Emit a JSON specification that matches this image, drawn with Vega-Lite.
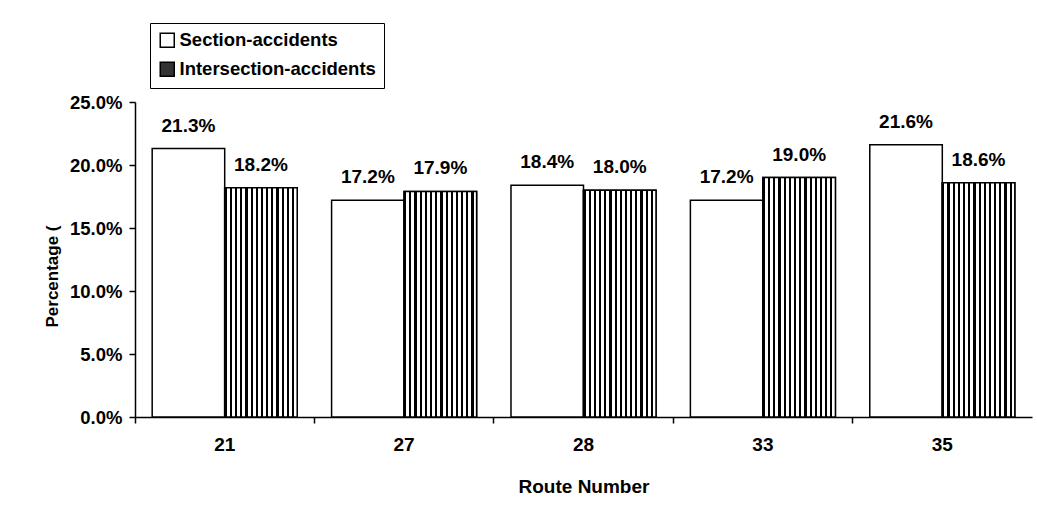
{
  "$schema": "https://vega.github.io/schema/vega-lite/v6.json",
  "width": 897,
  "height": 315,
  "autosize": {"type": "none"},
  "padding": {"left": 135, "top": 102, "right": 5, "bottom": 105},
  "background": "white",
  "config": {
    "view": {"stroke": null},
    "font": "Liberation Sans",
    "axis": {
      "domainColor": "black",
      "domainWidth": 1.5,
      "tickColor": "black",
      "tickWidth": 1.5,
      "labelColor": "black",
      "titleColor": "black",
      "labelFont": "Liberation Sans",
      "titleFont": "Liberation Sans",
      "labelFontWeight": "bold",
      "titleFontWeight": "bold",
      "labelFontSize": 18.5,
      "titleFontSize": 18,
      "grid": false
    }
  },
  "data": {
    "values": [
      {"route": "21", "series": "Section-accidents", "value": 0.213},
      {"route": "21", "series": "Intersection-accidents", "value": 0.182},
      {"route": "27", "series": "Section-accidents", "value": 0.172},
      {"route": "27", "series": "Intersection-accidents", "value": 0.179},
      {"route": "28", "series": "Section-accidents", "value": 0.184},
      {"route": "28", "series": "Intersection-accidents", "value": 0.180},
      {"route": "33", "series": "Section-accidents", "value": 0.172},
      {"route": "33", "series": "Intersection-accidents", "value": 0.190},
      {"route": "35", "series": "Section-accidents", "value": 0.216},
      {"route": "35", "series": "Intersection-accidents", "value": 0.186}
    ]
  },
  "encoding": {
    "x": {
      "field": "route",
      "type": "nominal",
      "sort": null,
      "scale": {"paddingInner": 0, "paddingOuter": 0},
      "axis": {
        "title": "Route Number",
        "labelAngle": 0,
        "labelFontSize": 19,
        "bandPosition": 0,
        "tickSize": 6,
        "labelPadding": 12,
        "titleFontSize": 19,
        "titlePadding": 23
      }
    },
    "xOffset": {
      "field": "series",
      "type": "nominal",
      "sort": ["Section-accidents", "Intersection-accidents"],
      "scale": {"paddingInner": 0, "paddingOuter": 0.237}
    },
    "y": {
      "field": "value",
      "type": "quantitative",
      "scale": {"domain": [0, 0.25], "nice": false},
      "axis": {
        "title": "Percentage (",
        "format": ".1%",
        "values": [0, 0.05, 0.1, 0.15, 0.2, 0.25],
        "tickSize": 6,
        "labelPadding": 7,
        "titlePadding": 8,
        "titleFontSize": 17,
        "titleY": 174
      }
    }
  },
  "layer": [
    {
      "mark": {"type": "bar", "stroke": "black", "strokeWidth": 1.5},
      "encoding": {
        "fill": {
          "field": "series",
          "type": "nominal",
          "sort": ["Section-accidents", "Intersection-accidents"],
          "scale": {
            "domain": ["Section-accidents", "Intersection-accidents"],
            "range": ["white", "#333333"]
          },
          "legend": {
            "title": null,
            "orient": "none",
            "legendX": 15,
            "legendY": -79,
            "strokeColor": "black",
            "padding": 8,
            "symbolType": "square",
            "symbolSize": 196,
            "symbolStrokeColor": "black",
            "symbolStrokeWidth": 1.5,
            "symbolOpacity": 1,
            "labelFont": "Liberation Sans",
            "labelFontSize": 18.5,
            "labelFontWeight": "bold",
            "labelColor": "black",
            "labelLimit": 400,
            "labelOffset": 3,
            "rowPadding": 8,
            "encoding": {
              "symbols": {
                "fill": {"value": {"expr": "datum.value === 'Intersection-accidents' ? {gradient: 'linear', x1: 0, y1: 0, x2: 1, y2: 0, stops: [{offset: 0, color: 'black'}, {offset: 0.2, color: 'black'}, {offset: 0.2, color: 'white'}, {offset: 0.33, color: 'white'}, {offset: 0.33, color: 'black'}, {offset: 0.45, color: 'black'}, {offset: 0.45, color: 'white'}, {offset: 0.57, color: 'white'}, {offset: 0.57, color: 'black'}, {offset: 0.69, color: 'black'}, {offset: 0.69, color: 'white'}, {offset: 0.81, color: 'white'}, {offset: 0.81, color: 'black'}, {offset: 1, color: 'black'}]} : 'white'"}},
                "stroke": {"value": "black"},
                "strokeWidth": {"value": 1.5},
                "opacity": {"value": 1}
              }
            }
          }
        }
      }
    },
    {
      "transform": [{"filter": "datum.series === 'Intersection-accidents'"}],
      "mark": {
        "type": "bar",
        "stroke": "black",
        "strokeWidth": 1.5,
        "fill": {
          "gradient": "linear",
          "x1": 0, "y1": 0, "x2": 1, "y2": 0,
          "stops": [
            {"offset": 0.0, "color": "black"}, {"offset": 0.03, "color": "black"}, {"offset": 0.03, "color": "white"}, {"offset": 0.0714, "color": "white"},
            {"offset": 0.0714, "color": "black"}, {"offset": 0.1014, "color": "black"}, {"offset": 0.1014, "color": "white"}, {"offset": 0.1429, "color": "white"},
            {"offset": 0.1429, "color": "black"}, {"offset": 0.1729, "color": "black"}, {"offset": 0.1729, "color": "white"}, {"offset": 0.2143, "color": "white"},
            {"offset": 0.2143, "color": "black"}, {"offset": 0.2443, "color": "black"}, {"offset": 0.2443, "color": "white"}, {"offset": 0.2857, "color": "white"},
            {"offset": 0.2857, "color": "black"}, {"offset": 0.3157, "color": "black"}, {"offset": 0.3157, "color": "white"}, {"offset": 0.3571, "color": "white"},
            {"offset": 0.3571, "color": "black"}, {"offset": 0.3871, "color": "black"}, {"offset": 0.3871, "color": "white"}, {"offset": 0.4286, "color": "white"},
            {"offset": 0.4286, "color": "black"}, {"offset": 0.4586, "color": "black"}, {"offset": 0.4586, "color": "white"}, {"offset": 0.5, "color": "white"},
            {"offset": 0.5, "color": "black"}, {"offset": 0.53, "color": "black"}, {"offset": 0.53, "color": "white"}, {"offset": 0.5714, "color": "white"},
            {"offset": 0.5714, "color": "black"}, {"offset": 0.6014, "color": "black"}, {"offset": 0.6014, "color": "white"}, {"offset": 0.6429, "color": "white"},
            {"offset": 0.6429, "color": "black"}, {"offset": 0.6729, "color": "black"}, {"offset": 0.6729, "color": "white"}, {"offset": 0.7143, "color": "white"},
            {"offset": 0.7143, "color": "black"}, {"offset": 0.7443, "color": "black"}, {"offset": 0.7443, "color": "white"}, {"offset": 0.7857, "color": "white"},
            {"offset": 0.7857, "color": "black"}, {"offset": 0.8157, "color": "black"}, {"offset": 0.8157, "color": "white"}, {"offset": 0.8571, "color": "white"},
            {"offset": 0.8571, "color": "black"}, {"offset": 0.8871, "color": "black"}, {"offset": 0.8871, "color": "white"}, {"offset": 0.9286, "color": "white"},
            {"offset": 0.9286, "color": "black"}, {"offset": 0.9586, "color": "black"}, {"offset": 0.9586, "color": "white"}, {"offset": 1.0, "color": "white"}
          ]
        }
      },
      "encoding": {}
    },
    {
      "mark": {
        "type": "text",
        "baseline": "alphabetic",
        "dy": -17,
        "font": "Liberation Sans",
        "fontSize": 19,
        "fontWeight": "bold",
        "color": "black"
      },
      "encoding": {
        "text": {"field": "value", "type": "quantitative", "format": ".1%"}
      }
    }
  ]
}
